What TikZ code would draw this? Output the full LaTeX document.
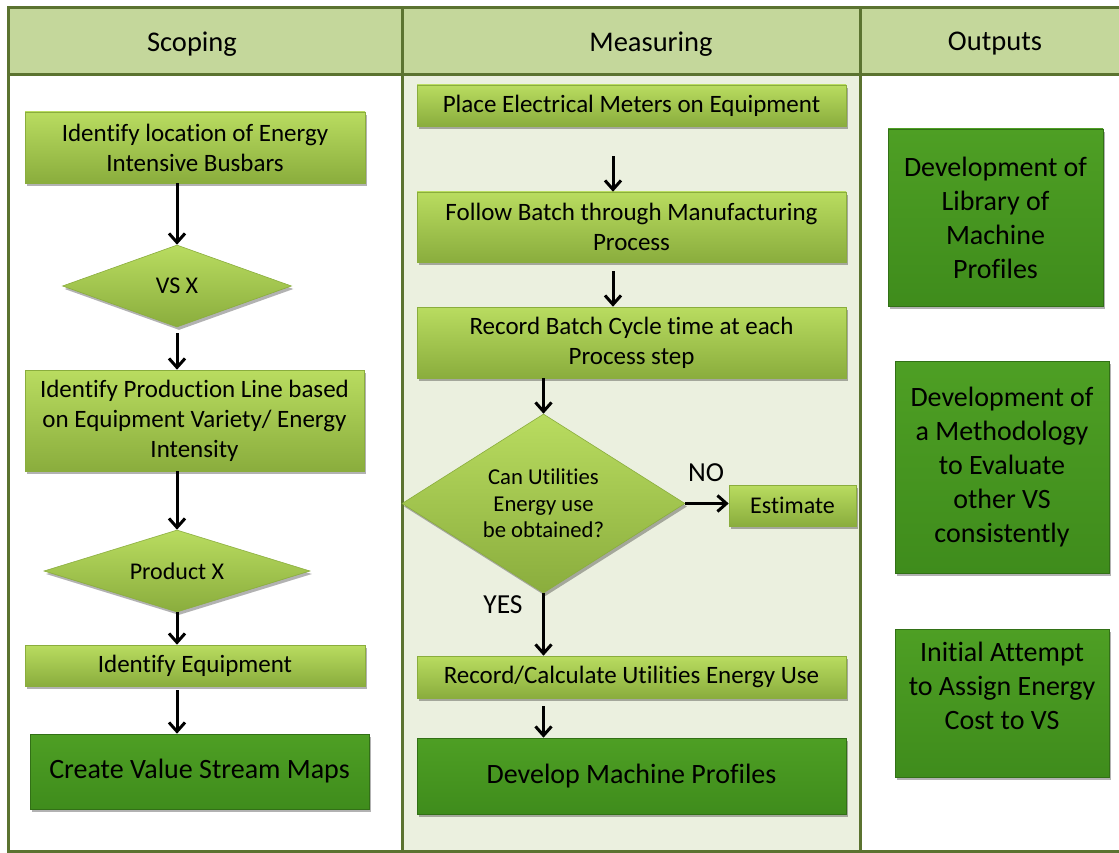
\documentclass[tikz,border=0pt]{standalone}
\usepackage{fontspec}
\setmainfont[Ligatures=NoCommon]{Carlito}
\usepackage{tikz}
\usetikzlibrary{shapes.geometric, shadows, arrows.meta, calc}
\definecolor{mylime}{HTML}{B9DC60}
\definecolor{mylimedark}{HTML}{8AAD3D}
\definecolor{mygreen}{HTML}{4E9F24}
\definecolor{mygreendark}{HTML}{3F8C1C}
\definecolor{myolive}{HTML}{5B7330}
\definecolor{myhead}{HTML}{C4D79B}
\definecolor{mypale}{HTML}{EBF0DF}
\tikzset{
	>={Straight Barb[length=9pt,width=16pt]},
	flow/.style={->, line width=3pt, black},
	frame/.style={myolive, line width=3pt},
	boxshadow/.style={drop shadow={shadow xshift=2pt, shadow yshift=-3pt, opacity=0.3, fill=black}},
	litebox/.style={rectangle, top color=mylime, bottom color=mylimedark, draw=mylimedark, line width=0.6pt, boxshadow, inner sep=0pt, align=center, font=\fontsize{25}{30}\selectfont},
	bigbox/.style={rectangle, top color=mygreen, bottom color=mygreendark, draw=mygreendark!80!black, line width=0.6pt, boxshadow, inner sep=0pt, align=center, font=\fontsize{28}{34}\selectfont},
	decision/.style={diamond, aspect=1.6, top color=mylime, bottom color=mylimedark, draw=mylimedark, line width=0.6pt, boxshadow, inner sep=0pt, align=center, font=\fontsize{24}{28}\selectfont},
	headtext/.style={font=\fontsize{28.5}{34}\selectfont},
}
\begin{document}
\begin{tikzpicture}[x=1pt, y=-1pt]
	\clip (0,0) rectangle (1119,853);
	\fill[white] (0,0) rectangle (1119,853);
	% column backgrounds
	\fill[myhead] (8,8) rectangle (1130,75);
	\fill[mypale] (402,75) rectangle (860,851);
	\draw[frame] (1130,8) -- (8,8) -- (8,851) -- (1130,851);
	\draw[frame] (8,75) -- (1130,75);
	\draw[frame] (402,8) -- (402,851);
	\draw[frame] (860,8) -- (860,851);
	\node[headtext] (hscope) at (192,44) {Scoping};
	\node[headtext] (hmeas) at (651,44) {Measuring};
	\node[headtext] (hout) at (995,44) {Outputs};
	% scoping
	\node[litebox, minimum width=340, minimum height=71] (b1) at (195,147.5) {Identify location of Energy\\Intensive Busbars};
	\node[decision, minimum width=229, minimum height=82] (d1) at (177,286) {VS X};
	\node[litebox, minimum width=339, minimum height=101] (b2) at (194.5,420.5) {Identify Production Line based\\on Equipment Variety/ Energy\\Intensity};
	\node[decision, minimum width=266, minimum height=82] (d2) at (177,571) {Product X};
	\node[litebox, minimum width=340, minimum height=41] (b3) at (195,665.5) {Identify Equipment};
	\node[bigbox, minimum width=339, minimum height=75] (b4) at (199.5,771.5) {Create Value Stream Maps};
	\draw[flow] (b1.south -| d1.north) -- (d1.north);
	\draw[flow, shorten <=6pt] (d1.south) -- (d1.south |- b2.north);
	\draw[flow] (b2.south -| d2.north) -- (d2.north);
	\draw[flow] (d2.south) -- (d2.south |- b3.north);
	\draw[flow, shorten <=4pt] (b3.south -| d2.south) -- (b4.north -| d2.south);
	% measuring
	\coordinate (mx) at (613,0);
	\node[litebox, minimum width=429, minimum height=41] (m1) at (631.5,105.5) {Place Electrical Meters on Equipment};
	\node[litebox, minimum width=429, minimum height=70] (m2) at (631.5,227) {Follow Batch through Manufacturing\\Process};
	\node[litebox, minimum width=429, minimum height=71] (m3) at (631.5,342.5) {Record Batch Cycle time at each\\Process step};
	\node[decision, minimum width=283, minimum height=179, font=\fontsize{22.7}{26.5}\selectfont] (m4) at (543.5,503.5) {Can Utilities\\Energy use\\be obtained?};
	\node[litebox, minimum width=127, minimum height=41, font=\fontsize{24}{28}\selectfont] (est) at (792.5,505.5) {Estimate};
	\node[litebox, minimum width=429, minimum height=42] (m5) at (631.5,677) {Record/Calculate Utilities Energy Use};
	\node[bigbox, minimum width=429, minimum height=76] (m6) at (631.5,776) {Develop Machine Profiles};
	\node[font=\fontsize{27.5}{32}\selectfont] (no) at (706,473) {NO};
	\node[font=\fontsize{27.5}{32}\selectfont] (yes) at (503,605) {YES};
	\draw[flow, shorten <=30pt] (m1.south -| mx) -- (m2.north -| mx);
	\draw[flow, shorten <=9pt] (m2.south -| mx) -- (m3.north -| mx);
	\draw[flow] (m3.south -| m4.north) -- (m4.north);
	\draw[flow] (m4.east) -- (m4.east -| est.west);
	\draw[flow] (m4.south) -- (m4.south |- m5.north);
	\draw[flow, shorten <=8pt] (m5.south -| m4.south) -- (m6.north -| m4.south);
	% outputs
	\node[bigbox, minimum width=215, minimum height=177] (o1) at (995.5,217.5) {Development of\\Library of\\Machine\\Profiles};
	\node[bigbox, minimum width=214, minimum height=212] (o2) at (1002,467) {Development of\\a Methodology\\to Evaluate\\other VS\\consistently};
	\node[bigbox, minimum width=214, minimum height=148] (o3) at (1002,703) {Initial Attempt\\to Assign Energy\\Cost to VS\\ ~};
\end{tikzpicture}
\end{document}
